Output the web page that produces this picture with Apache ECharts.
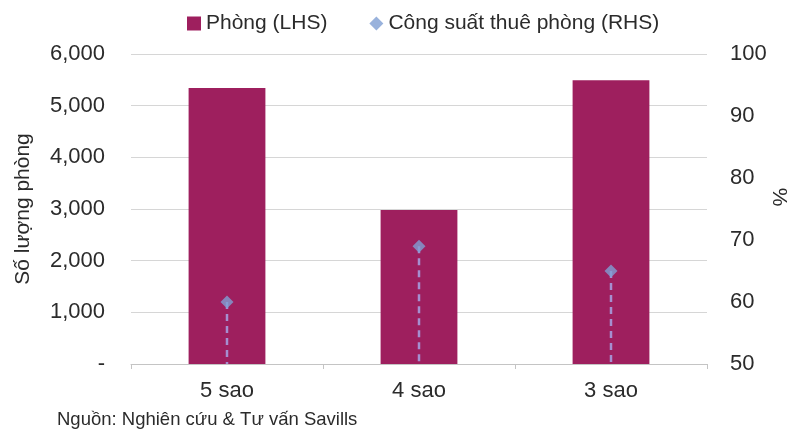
<!DOCTYPE html>
<html>
<head>
<meta charset="utf-8">
<script src="https://cdn.jsdelivr.net/npm/echarts@6/dist/echarts.min.js"></script>
<style>
  html, body { margin: 0; padding: 0; background: #fff; }
  #chart { width: 795px; height: 435px; }
</style>
</head>
<body>
<div id="chart"></div>
<script>
// data
const categories = ["5 sao", "4 sao", "3 sao"];
const rooms = [5340, 2980, 5490];
const occupancy = [60, 69, 65];
const leftTicks = [0, 1000, 2000, 3000, 4000, 5000, 6000];
const rightTicks = [50, 60, 70, 80, 90, 100];

const FONT = "Liberation Sans, Arial, sans-serif";
const TXT = "#2b2b2b";

const chart = echarts.init(document.getElementById("chart"));

chart.setOption({
  animation: false,
  textStyle: { fontFamily: FONT },
  legend: {
    top: 8,
    left: 182,
    itemGap: 42,
    itemWidth: 14,
    itemHeight: 14,
    textStyle: { fontSize: 21, color: TXT, fontFamily: FONT },
    data: [
      { name: "Phòng (LHS)", icon: "rect" },
      { name: "Công suất thuê phòng (RHS)", icon: "diamond", itemStyle: { color: "#7f9fd3" } },
    ],
  },
  grid: {
    left: 131,
    right: 88,
    top: 54,
    bottom: 71,
    outerBoundsMode: "none",
  },
  xAxis: {
    type: "category",
    data: categories,
    axisLine: { lineStyle: { color: "#c4c4c4", width: 1 } },
    axisTick: { show: true, length: 5, lineStyle: { color: "#c4c4c4" } },
    axisLabel: { fontSize: 22, color: TXT, margin: 16 },
  },
  yAxis: [
    {
      type: "value",
      min: leftTicks[0],
      max: leftTicks[leftTicks.length - 1],
      interval: 1000,
      name: "Số lượng phòng",
      nameLocation: "middle",
      nameGap: 97,
      nameTextStyle: { fontSize: 21, color: TXT },
      axisLine: { show: false },
      axisTick: { show: false },
      splitLine: { lineStyle: { color: "#d6d6d6" } },
      axisLabel: {
        fontSize: 22,
        color: TXT,
        margin: 26,
        formatter: (v) => (v === 0 ? "-" : v.toLocaleString("en-US")),
      },
    },
    {
      type: "value",
      min: rightTicks[0],
      max: rightTicks[rightTicks.length - 1],
      interval: 10,
      axisLine: { show: false },
      axisTick: { show: false },
      splitLine: { show: false },
      axisLabel: { fontSize: 22, color: TXT, margin: 23 },
    },
  ],
  series: [
    {
      name: "Phòng (LHS)",
      type: "bar",
      data: rooms,
      barWidth: "40%",
      itemStyle: { color: "#9e1f5e" },
    },
    {
      // dashed drop line from each marker down to the axis
      name: "drop",
      type: "custom",
      yAxisIndex: 1,
      z: 3,
      renderItem: (params, api) => {
        const top = api.coord([api.value(0), api.value(1)]);
        const bottom = api.coord([api.value(0), rightTicks[0]]);
        return {
          type: "line",
          shape: { x1: top[0], y1: top[1], x2: bottom[0], y2: bottom[1] },
          style: { stroke: "#a58fd0", lineWidth: 2.5, lineDash: [7, 5] },
        };
      },
      data: occupancy.map((v, i) => [i, v]),
      silent: true,
    },
    {
      name: "Công suất thuê phòng (RHS)",
      type: "scatter",
      yAxisIndex: 1,
      symbol: "diamond",
      symbolSize: 13,
      z: 4,
      itemStyle: { color: "#7f9fd3" },
      data: occupancy,
    },
  ],
  graphic: [
    {
      // right axis title
      type: "text",
      x: 779,
      y: 197,
      rotation: -Math.PI / 2,
      style: {
        text: "%",
        fontSize: 21,
        fill: TXT,
        fontFamily: FONT,
        align: "center",
        verticalAlign: "middle",
      },
    },
    {
      type: "text",
      left: 57,
      top: 410,
      style: {
        text: "Nguồn: Nghiên cứu & Tư vấn Savills",
        fontSize: 18.5,
        fill: TXT,
        fontFamily: FONT,
      },
    },
  ],
});
</script>
</body>
</html>
